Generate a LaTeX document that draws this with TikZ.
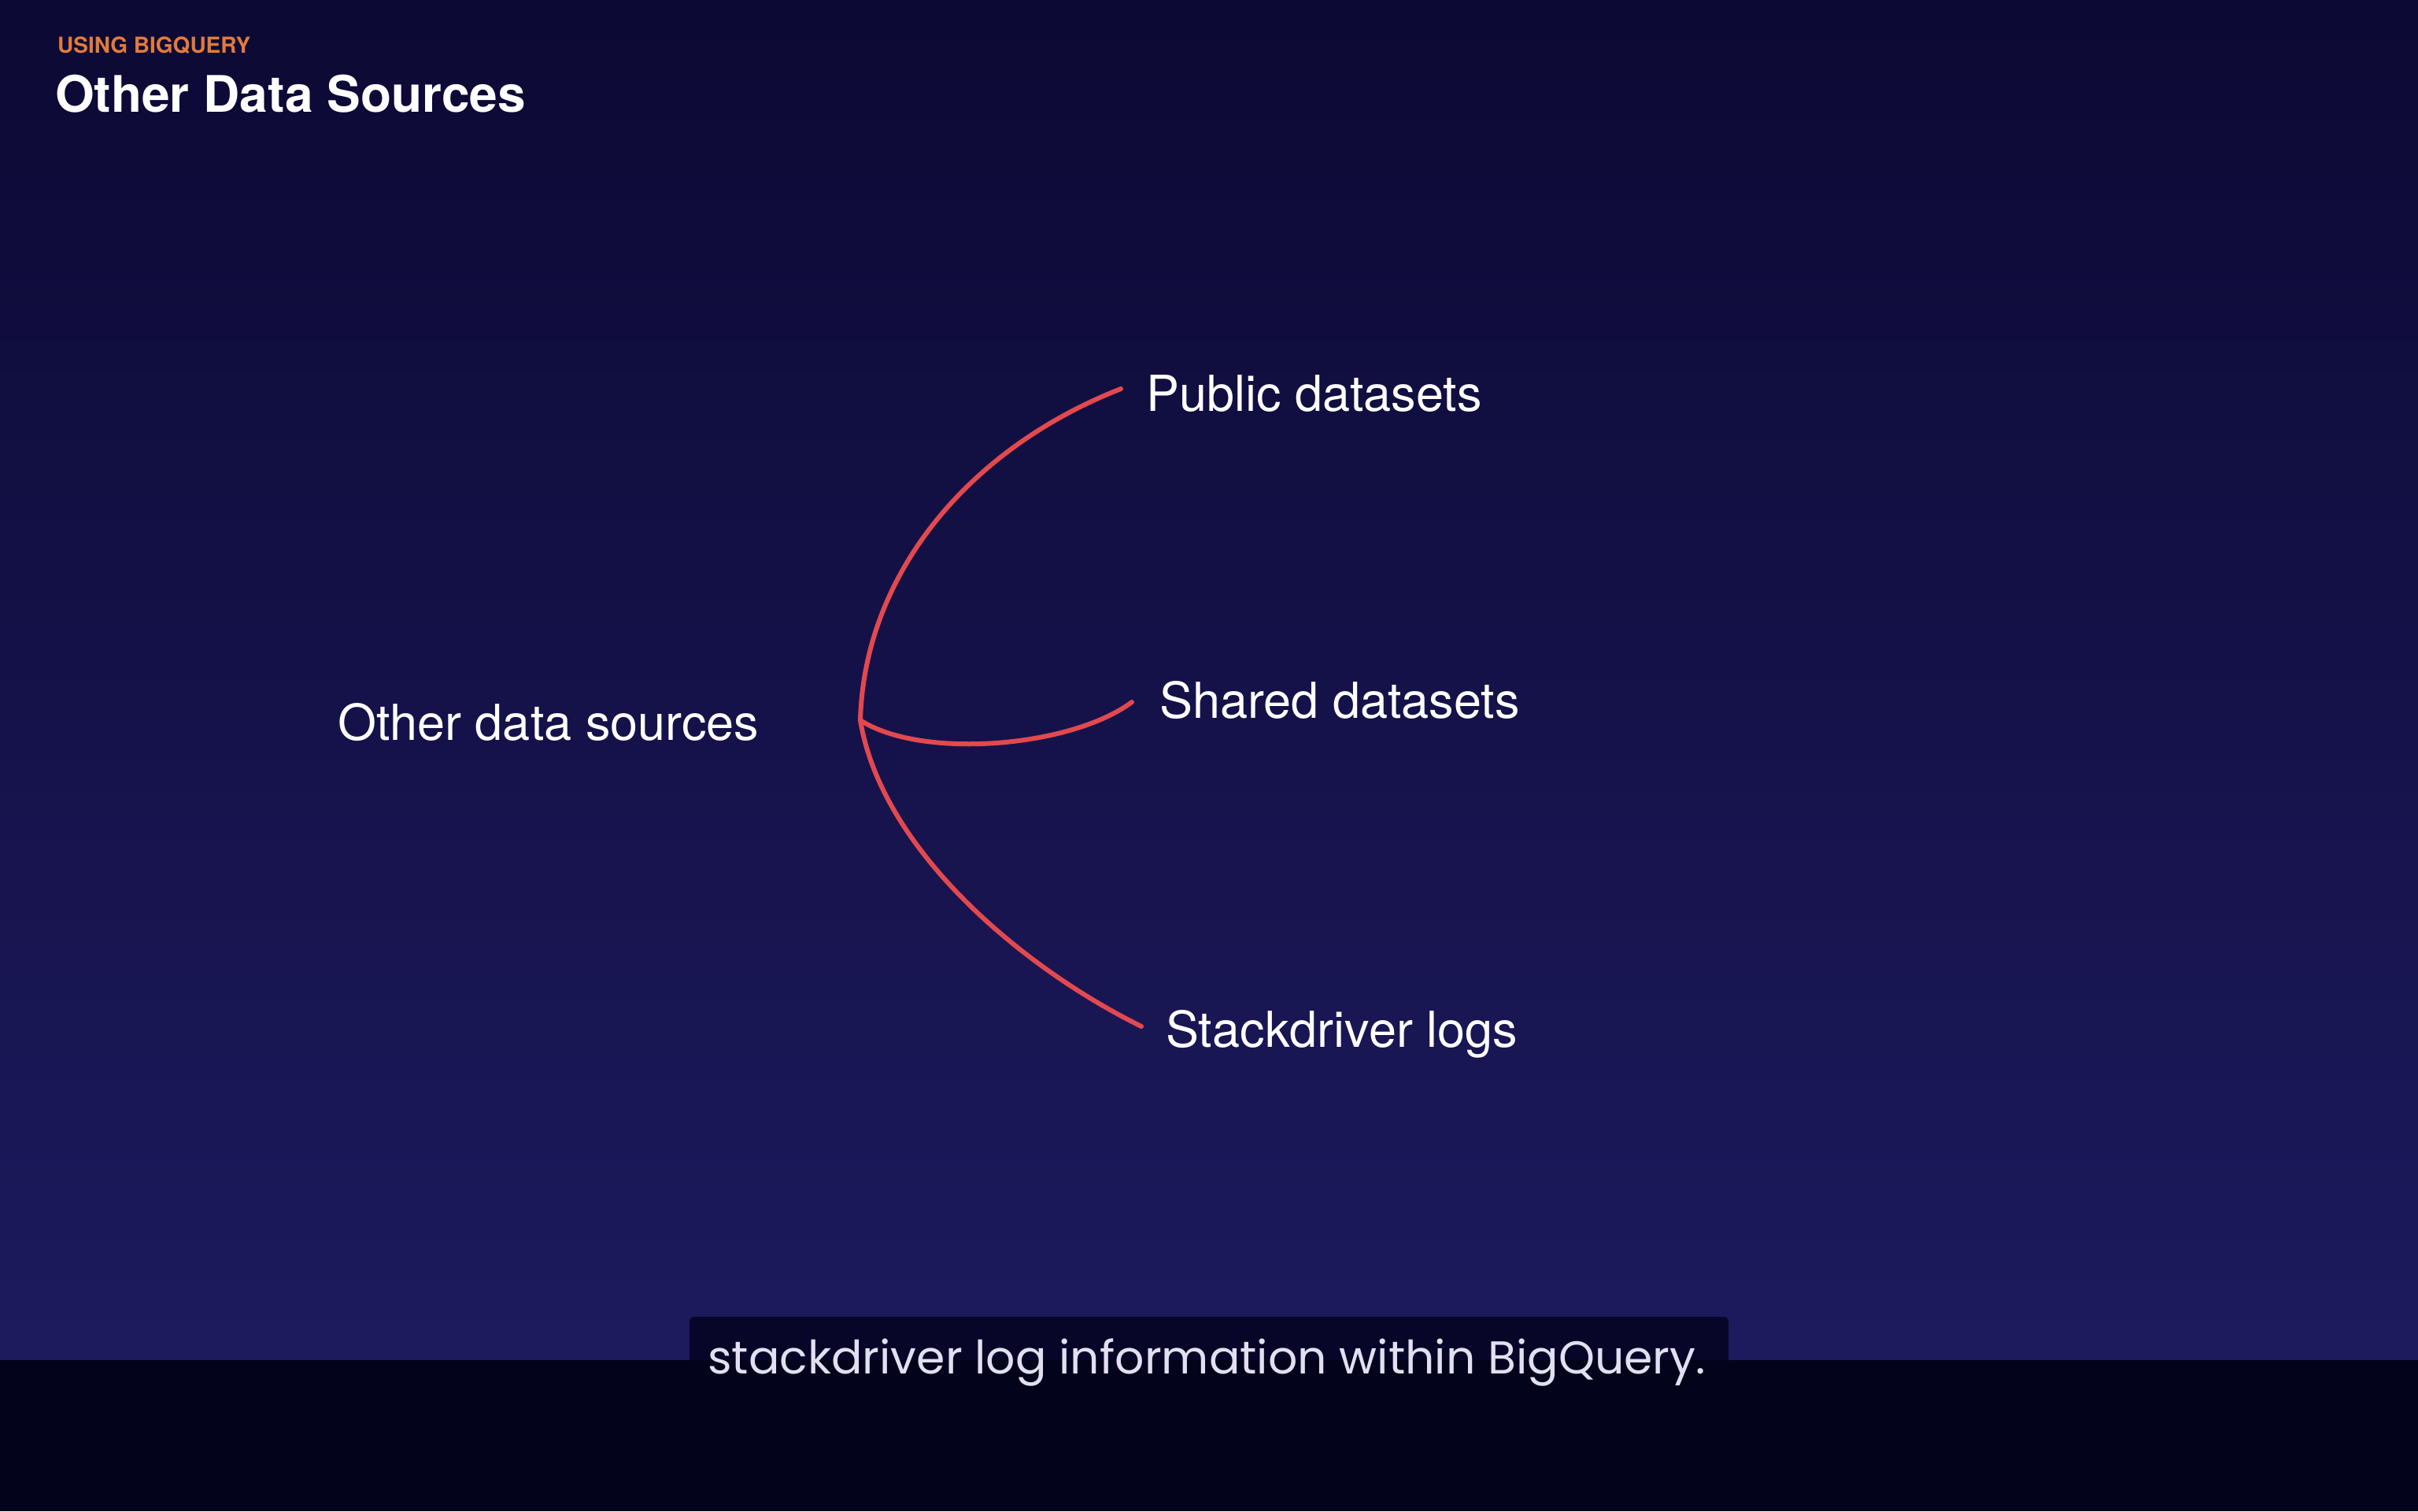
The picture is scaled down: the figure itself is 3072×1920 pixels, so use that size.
\documentclass[tikz,border=0pt]{standalone}
\usepackage{fontspec}
\setmainfont{TeX Gyre Heros}
\newfontfamily\capfont{Poppins}
\definecolor{bgtop}{HTML}{0C0934}
\definecolor{bgbot}{HTML}{1D1A5E}
\definecolor{band}{HTML}{04031C}
\definecolor{capbox}{HTML}{080628}
\definecolor{branch}{HTML}{E2494E}
\definecolor{kicker}{HTML}{E07B3C}
\definecolor{captxt}{HTML}{E2E0F0}
\tikzset{
  lbl/.style={anchor=base west, inner sep=0pt, text=white, font=\fontsize{63}{70}\selectfont},
  branchline/.style={draw=branch, line width=6pt, line cap=round},
}
\begin{document}
\begin{tikzpicture}[x=1pt,y=-1pt]
\useasboundingbox (0,0) rectangle (3072,1920);
\shade[top color=bgtop, bottom color=bgbot] (0,0) rectangle (3072,1728);
\fill[capbox, rounded corners=6pt] (876,1673) rectangle (2196,1760);
\fill[band] (0,1728) rectangle (3072,1920);
% title
\node[anchor=base west, inner sep=0pt, text=kicker, font=\bfseries\fontsize{28}{30}\selectfont] (kick) at (73,67) {USING BIGQUERY};
\node[anchor=base west, inner sep=0pt, text=white, font=\bfseries\fontsize{64}{70}\selectfont] (title) at (70,142) {Other Data Sources};
% labels
\node[lbl] (src) at (429,940) {Other data sources};
\node[lbl] (pub) at (1456,522) {Public datasets};
\node[lbl] (shr) at (1473,912) {Shared datasets};
\node[lbl] (stk) at (1481,1330) {Stackdriver logs};
% branch points
\coordinate (root) at (1093,915);
\coordinate (pubend) at (1424,494);
\coordinate (shrend) at (1438,892);
\coordinate (stkend) at (1450,1304);
\draw[branchline] (root) .. controls (1098,730) and (1230,570) .. (pubend);
\draw[branchline] (root) .. controls (1170,965) and (1360,950) .. (shrend);
\draw[branchline] (root) .. controls (1120,1080) and (1300,1230) .. (stkend);
% caption
\node[anchor=base west, inner sep=0pt, text=captxt, font=\capfont\fontsize{58.5}{64}\selectfont] (cap) at (899,1745) {stackdriver log information within BigQuery.};
\end{tikzpicture}
\end{document}
